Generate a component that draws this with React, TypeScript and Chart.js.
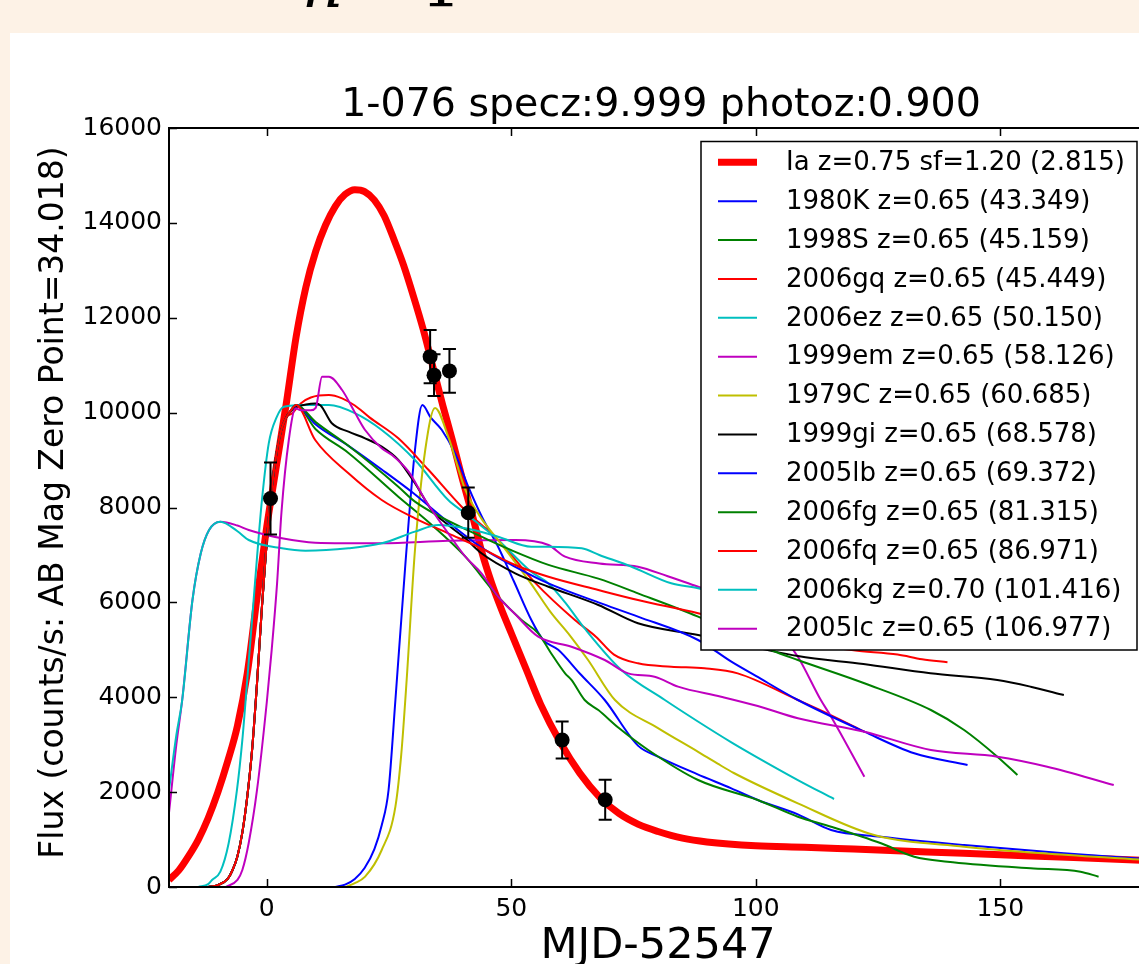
import React, { useEffect, useRef } from "react";
import { Chart, registerables } from "chart.js";

Chart.register(...registerables);

type P = [number, number];

// ---------- axis ranges & ticks ----------
const X_MIN = -20;
const X_MAX = 180;
const Y_MIN = 0;
const Y_MAX = 16000;
const X_TICKS = [0, 50, 100, 150];
const Y_TICKS = [0, 2000, 4000, 6000, 8000, 10000, 12000, 14000, 16000];

// ---------- texts ----------
const TITLE = "1-076 specz:9.999 photoz:0.900";
const X_LABEL = "MJD-52547";
const Y_LABEL = "Flux (counts/s: AB Mag Zero Point=34.018)";

const LABELS = [
  "Ia z=0.75 sf=1.20 (2.815)",
  "1980K z=0.65 (43.349)",
  "1998S z=0.65 (45.159)",
  "2006gq z=0.65 (45.449)",
  "2006ez z=0.65 (50.150)",
  "1999em z=0.65 (58.126)",
  "1979C z=0.65 (60.685)",
  "1999gi z=0.65 (68.578)",
  "2005lb z=0.65 (69.372)",
  "2006fg z=0.65 (81.315)",
  "2006fq z=0.65 (86.971)",
  "2006kg z=0.70 (101.416)",
  "2005lc z=0.65 (106.977)",
];

// ---------- series (MJD offset, flux) ----------
const IA: P[] = [
  [-20, 150], [-18, 350], [-16, 650], [-14, 1000], [-12, 1450], [-10, 2000], [-8, 2650],
  [-6, 3400], [-4, 4500], [-2, 6100], [0, 7600], [2, 8900], [4, 10200], [6, 11600],
  [8, 12650], [10, 13400], [12, 13950], [14, 14350], [16, 14600], [18, 14700], [20, 14660],
  [22, 14480], [24, 14150], [26, 13650], [28, 13100], [30, 12450], [32, 11750], [34, 10950],
  [36, 10150], [38, 9400], [40, 8600], [42, 7850], [44, 7050], [46, 6400], [48, 5850],
  [50, 5350], [53, 4600], [56, 3850], [60, 3050], [64, 2400], [68, 1900], [72, 1550],
  [76, 1320], [80, 1170], [85, 1030], [90, 950], [100, 870], [110, 840], [120, 800],
  [135, 740], [150, 680], [165, 620], [180, 560],
];

// shared early rise
const RISE_COMMON: P[] = [
  [-12, 0], [-10, 40], [-8, 170], [-7, 358], [-6, 650], [-5, 1150], [-4, 1900], [-3, 2900],
  [-2, 4300], [-1, 5900], [0, 7300], [1, 8400], [2, 9150], [3, 9650], [4, 9900],
];

const SN_1980K: P[] = [
  [14, 0], [16, 50], [18, 170], [20, 400], [22, 800], [23.5, 1300], [24.9, 2045], [26.3, 3942],
  [28.3, 6752], [30.3, 9212], [31.8, 10160], [33.5, 9900], [35.8, 9634], [38.5, 9142],
  [41.2, 8438], [44, 7800], [47.3, 7174], [50.5, 6450], [54.1, 5628], [56.5, 5210], [59.6, 5000],
  [64, 4500], [69.1, 3942], [75.9, 2980], [80, 2750], [88, 2380], [95, 2080], [100.4, 1834],
  [108.6, 1530], [115.4, 1201], [125.6, 1060], [142.6, 885], [163, 710], [180, 590],
];

const SN_1998S: P[] = [
  ...RISE_COMMON,
  [5, 10060], [6, 10160], [10, 9650], [16.7, 9150], [26.9, 8228], [33, 7700], [40.6, 6963],
  [47.3, 6120], [52.1, 5628], [55.5, 5348], [58, 4950], [61, 4504], [62.3, 4364], [65, 3942],
  [67.8, 3730], [72, 3350], [78, 2888], [88.2, 2255], [100.4, 1834], [108.6, 1482], [115.4, 1271],
  [125.6, 921], [132.4, 639], [139.2, 533], [156.2, 394], [166.4, 323], [170.1, 217],
];

const SN_2006gq: P[] = [
  ...RISE_COMMON,
  [5.2, 9985], [7, 10200], [9, 10320], [12.7, 10371], [15.4, 10300], [18, 10150], [21, 9900],
  [26.9, 9458], [33, 8800], [40, 8000], [47.3, 7315], [55, 6400], [63, 5628], [67.3, 5277],
  [71, 4900], [75.9, 4715], [82.7, 4645], [89.5, 4610], [96.3, 4504], [108.6, 3942], [115, 3640],
  [122.2, 3274],
];

const SN_2006ez: P[] = [
  [-14, 0], [-12, 60], [-11.2, 148], [-9.5, 323], [-7.8, 921], [-6.1, 2045], [-5, 3100],
  [-4, 4364], [-3, 5650], [-2, 6950], [-1, 8150], [0.4, 9353], [2, 9900], [3.5, 10125],
  [7.9, 10160], [12.7, 10160], [18.1, 9985], [23.5, 9634], [30.3, 9001], [37.1, 8158],
  [40.6, 7877], [47.3, 7315], [54, 6650], [57.6, 6400], [61, 6000], [65, 5450], [72.5, 4574],
  [81.4, 3942], [88, 3500], [95, 3050], [100, 2750], [108.6, 2255], [116, 1855],
];

const SN_1999em: P[] = [
  [-20, 1560], [-18.5, 3000], [-17.3, 3942], [-15.2, 6050], [-13.5, 7034], [-11.8, 7526],
  [-9.5, 7701], [-6, 7620], [-3.7, 7526], [3.1, 7350], [9.9, 7258], [23.5, 7245], [37.1, 7300],
  [50.8, 7315], [57.6, 7209], [61, 6963], [68, 6820], [75.9, 6752], [82, 6550], [88.2, 6330],
  [95, 6100], [100, 5800], [105, 5350], [108.6, 4855], [113.3, 3942], [115.4, 3590], [122.2, 2325],
];

const SN_1979C: P[] = [
  [16, 0], [18, 80], [20.1, 218], [23.5, 780], [26.3, 1693], [27.5, 2800], [28.6, 4364],
  [30.3, 7104], [32.4, 9212], [34.4, 10100], [37.1, 9493], [40.6, 8369], [44, 7750], [47.3, 7315],
  [54, 6400], [58, 5800], [62, 5300], [65.7, 4785], [71.2, 3942], [80, 3350], [88.2, 2850],
  [92.2, 2600], [95.5, 2403], [108.6, 1764], [124.2, 1096], [142.6, 850], [160, 700], [180, 569],
];

const SN_1999gi: P[] = [
  ...RISE_COMMON,
  [4.5, 9985], [6, 10120], [8, 10170], [9.9, 10190], [11, 10150], [13.3, 9775], [16.7, 9598],
  [20.1, 9458], [23.5, 9282], [26.9, 9001], [30.3, 8510], [33.7, 7947], [37.1, 7631],
  [40.6, 7350], [43.9, 7034], [50.8, 6613], [57.6, 6330], [67.8, 5945], [75.9, 5559],
  [88.2, 5312], [108.6, 4869], [122, 4700], [135.7, 4505], [149.4, 4364], [156.2, 4223],
  [163, 4047],
];

const SN_2005lb: P[] = [
  ...RISE_COMMON,
  [5, 10060], [6, 10160], [10, 9750], [16.7, 9300], [23.5, 8800], [30, 8300], [37, 7700],
  [44, 7150], [50.8, 6750], [57.6, 6400], [67.8, 6000], [75.9, 5700], [88.2, 5207], [95, 4750],
  [100, 4450], [108.6, 3942], [122.2, 3274], [132.4, 2818], [143.3, 2572],
];

const SN_2006fg: P[] = [
  ...RISE_COMMON,
  [5, 10060], [6, 10160], [10, 9800], [16.7, 9300], [26.9, 8438], [30.3, 8123], [43.9, 7385],
  [50, 7100], [57.6, 6790], [67.8, 6500], [75.9, 6191], [88.2, 5700], [103.1, 4996],
  [108.6, 4785], [122.2, 4294], [135.8, 3731], [142.6, 3310], [149.4, 2747], [153.5, 2361],
];

const SN_2006fq: P[] = [
  ...RISE_COMMON,
  [5, 10060], [6, 10160], [9.9, 9423], [16.7, 8721], [23.5, 8158], [30.3, 7772], [37.1, 7456],
  [43.9, 7140], [50.8, 6788], [57.6, 6540], [67.8, 6261], [75.9, 6050], [88.2, 5770], [100, 5450],
  [110, 5150], [120, 4990], [129, 4900], [134, 4800], [139.2, 4737],
];

const SN_2006kg: P[] = [
  [-20, 2045], [-18.5, 3200], [-17.3, 3942], [-15.2, 6050], [-13.5, 7034], [-11.8, 7526],
  [-9.5, 7701], [-6, 7500], [-3.7, 7315], [3.1, 7140], [7.9, 7090], [16.7, 7140], [23.5, 7245],
  [30.3, 7491], [35.1, 7631], [40.6, 7561], [47.3, 7385], [54.1, 7174], [57.6, 7174],
  [64.4, 7140], [68, 7000], [74.6, 6752], [82.7, 6402], [88.2, 6297], [95, 6100], [105, 5800],
  [110, 5600],
];

const SN_2005lc: P[] = [
  [-8.4, 0], [-6, 150], [-5, 358], [-3.7, 927], [-2, 2045], [0, 3900], [1, 5000], [2.1, 6402],
  [3, 7900], [4.5, 9423], [5.9, 10090], [7, 10050], [9, 10050], [10, 10100], [11.3, 10757],
  [12.7, 10757], [15.4, 10477], [18.1, 9985], [20.1, 9634], [23.5, 9248], [25.6, 9107],
  [29, 8755], [32.4, 8158], [37.1, 7456], [40.6, 6963], [43.9, 6613], [47.3, 6120], [50.8, 5750],
  [55.5, 5277], [62.3, 5066], [69.1, 4785], [73.9, 4504], [79.3, 4434], [84.1, 4223],
  [92.9, 4012], [100.4, 3815], [108.6, 3556], [122.2, 3274], [135.8, 2888], [149.4, 2747],
  [159.6, 2536], [173.2, 2150],
];

const SERIES: P[][] = [
  IA, SN_1980K, SN_1998S, SN_2006gq, SN_2006ez, SN_1999em, SN_1979C,
  SN_1999gi, SN_2005lb, SN_2006fg, SN_2006fq, SN_2006kg, SN_2005lc,
];

// ---------- observed photometry ----------
const OBS_T = [0.76, 33.4, 34.2, 37.35, 41.2, 60.4, 69.2];
const OBS_F = [8190, 11180, 10790, 10880, 7890, 3100, 1840];
const OBS_ERR = [760, 560, 440, 460, 530, 390, 420];

// ---------- styles ----------
const COLORS = [
  "#ff0000", "#0000ff", "#008000", "#ff0000", "#00bfbf", "#bf00bf", "#bfbf00",
  "#000000", "#0000ff", "#008000", "#ff0000", "#00bfbf", "#bf00bf",
];
const FONT = "'DejaVu Sans', 'Bitstream Vera Sans', sans-serif";

const OBS_INDEX = SERIES.length;

const decor = {
  id: "decor",
  beforeDatasetDraw(chart: any, args: any) {
    if (args.index !== OBS_INDEX) return;
    const ctx = chart.ctx;
    const xs = chart.scales.x;
    const ys = chart.scales.y;
    ctx.save();
    ctx.strokeStyle = "#000";
    ctx.lineWidth = 2;
    for (let i = 0; i < OBS_T.length; i++) {
      const x = xs.getPixelForValue(OBS_T[i]);
      const y1 = ys.getPixelForValue(OBS_F[i] - OBS_ERR[i]);
      const y2 = ys.getPixelForValue(OBS_F[i] + OBS_ERR[i]);
      ctx.beginPath();
      ctx.moveTo(x, y1);
      ctx.lineTo(x, y2);
      ctx.moveTo(x - 6.5, y1);
      ctx.lineTo(x + 6.5, y1);
      ctx.moveTo(x - 6.5, y2);
      ctx.lineTo(x + 6.5, y2);
      ctx.stroke();
    }
    ctx.restore();
  },
  afterDatasetsDraw(chart: any) {
    const ctx = chart.ctx;
    const { left, right, top, bottom } = chart.chartArea;
    const xs = chart.scales.x;
    const ys = chart.scales.y;
    ctx.save();
    // ticks (inward, both sides)
    ctx.strokeStyle = "#000";
    ctx.lineWidth = 1.5;
    ctx.beginPath();
    for (const v of X_TICKS) {
      const x = Math.round(xs.getPixelForValue(v)) + 0.5;
      ctx.moveTo(x, bottom);
      ctx.lineTo(x, bottom - 8);
      ctx.moveTo(x, top);
      ctx.lineTo(x, top + 8);
    }
    for (const v of Y_TICKS) {
      const y = Math.round(ys.getPixelForValue(v)) + 0.5;
      ctx.moveTo(left, y);
      ctx.lineTo(left + 8, y);
      ctx.moveTo(right, y);
      ctx.lineTo(right - 8, y);
    }
    ctx.stroke();
    // frame
    ctx.lineWidth = 2;
    ctx.strokeRect(left, top, right - left, bottom - top);

    // x tick labels
    ctx.fillStyle = "#000";
    ctx.font = `25px ${FONT}`;
    ctx.textAlign = "center";
    ctx.textBaseline = "alphabetic";
    for (const v of X_TICKS) {
      ctx.fillText(String(v), xs.getPixelForValue(v), bottom + 29);
    }

    // legend
    const bw = 436;
    const bh = 508.5;
    const bx = right - 10 - bw;
    const by = top + 13.5;
    ctx.fillStyle = "#fff";
    ctx.fillRect(bx, by, bw, bh);
    ctx.lineWidth = 1.5;
    ctx.strokeStyle = "#000";
    ctx.strokeRect(bx, by, bw, bh);
    ctx.font = `26px ${FONT}`;
    ctx.textBaseline = "middle";
    ctx.textAlign = "left";
    for (let i = 0; i < LABELS.length; i++) {
      const y = by + 20.8 + 38.87 * i;
      ctx.strokeStyle = COLORS[i];
      ctx.lineWidth = i === 0 ? 7 : 2;
      ctx.beginPath();
      ctx.moveTo(bx + 17, y);
      ctx.lineTo(bx + 56, y);
      ctx.stroke();
      ctx.fillStyle = "#000";
      ctx.fillText(LABELS[i], bx + 85, y + 1);
    }
    ctx.restore();
  },
  afterDraw(chart: any) {
    const ctx = chart.ctx;
    const { left, right, top, bottom } = chart.chartArea;
    ctx.save();
    ctx.fillStyle = "#000";
    ctx.textAlign = "center";
    ctx.textBaseline = "alphabetic";
    ctx.font = `39.5px ${FONT}`;
    ctx.fillText(TITLE, (left + right) / 2 + 3, top - 12);
    ctx.font = `43px ${FONT}`;
    ctx.fillText(X_LABEL, (left + right) / 2, bottom + 71);
    ctx.translate(53, (top + bottom) / 2 - 5);
    ctx.rotate(-Math.PI / 2);
    ctx.font = `33px ${FONT}`;
    ctx.fillText(Y_LABEL, 0, 0);
    ctx.restore();
  },
};

export default function App() {
  const ref = useRef<HTMLCanvasElement>(null);

  useEffect(() => {
    if (!ref.current) return;
    const datasets: any[] = SERIES.map((s, i) => ({
      type: "line",
      label: LABELS[i],
      data: s.map(([x, y]) => ({ x, y })),
      borderColor: COLORS[i],
      backgroundColor: COLORS[i],
      borderWidth: i === 0 ? 7 : 2,
      pointRadius: 0,
      fill: false,
      cubicInterpolationMode: "monotone",
      order: 100 - i,
    }));
    datasets.push({
      type: "line",
      label: "data",
      data: OBS_T.map((t, i) => ({ x: t, y: OBS_F[i] })),
      showLine: false,
      pointRadius: 7.5,
      pointBackgroundColor: "#000",
      pointBorderColor: "#000",
      pointBorderWidth: 0,
      order: 0,
    });

    const tickFont = { family: FONT, size: 25 };
    const chart = new Chart(ref.current, {
      type: "line",
      data: { datasets },
      options: {
        responsive: false,
        maintainAspectRatio: false,
        animation: false,
        devicePixelRatio: 1,
        layout: { padding: { top: 95, right: 23, left: 0, bottom: 0 } },
        plugins: {
          legend: { display: false },
          title: { display: false },
          tooltip: { enabled: false },
        },
        scales: {
          x: {
            type: "linear",
            min: X_MIN,
            max: X_MAX,
            afterBuildTicks: (s: any) => {
              s.ticks = X_TICKS.map((v) => ({ value: v }));
            },
            afterFit: (s: any) => {
              s.height = 77;
            },
            ticks: { display: false },
            grid: { display: false, drawTicks: false },
            border: { display: false },
          },
          y: {
            type: "linear",
            min: Y_MIN,
            max: Y_MAX,
            afterBuildTicks: (s: any) => {
              s.ticks = Y_TICKS.map((v) => ({ value: v }));
            },
            afterFit: (s: any) => {
              s.width = 159;
            },
            ticks: {
              font: tickFont,
              color: "#000",
              padding: 7,
              autoSkip: false,
              callback: (v: any) => String(v),
            },
            grid: { display: false, drawTicks: false },
            border: { display: false },
          },
        },
      } as any,
      plugins: [decor],
    } as any);
    return () => chart.destroy();
  }, []);

  return (
    <div
      style={{
        position: "fixed",
        left: 0,
        top: 0,
        width: 1139,
        height: 964,
        overflow: "hidden",
        background: "#fdf2e6",
      }}
    >
      <div
        style={{
          position: "absolute",
          left: 302,
          top: -47,
          fontFamily: "'DejaVu Serif', serif",
          fontSize: 64,
          lineHeight: "64px",
          whiteSpace: "nowrap",
          color: "#000",
        }}
      >
        <span style={{ fontStyle: "italic" }}>n</span>
        <span style={{ marginLeft: 12 }}>=</span>
        <span style={{ marginLeft: 12 }}>1</span>
      </div>
      <div
        style={{
          position: "absolute",
          left: 10,
          top: 33,
          width: 1200,
          height: 1000,
          background: "#ffffff",
        }}
      >
        <canvas
          ref={ref}
          width={1160}
          height={931}
          style={{ display: "block", width: 1160, height: 931 }}
        />
      </div>
    </div>
  );
}
